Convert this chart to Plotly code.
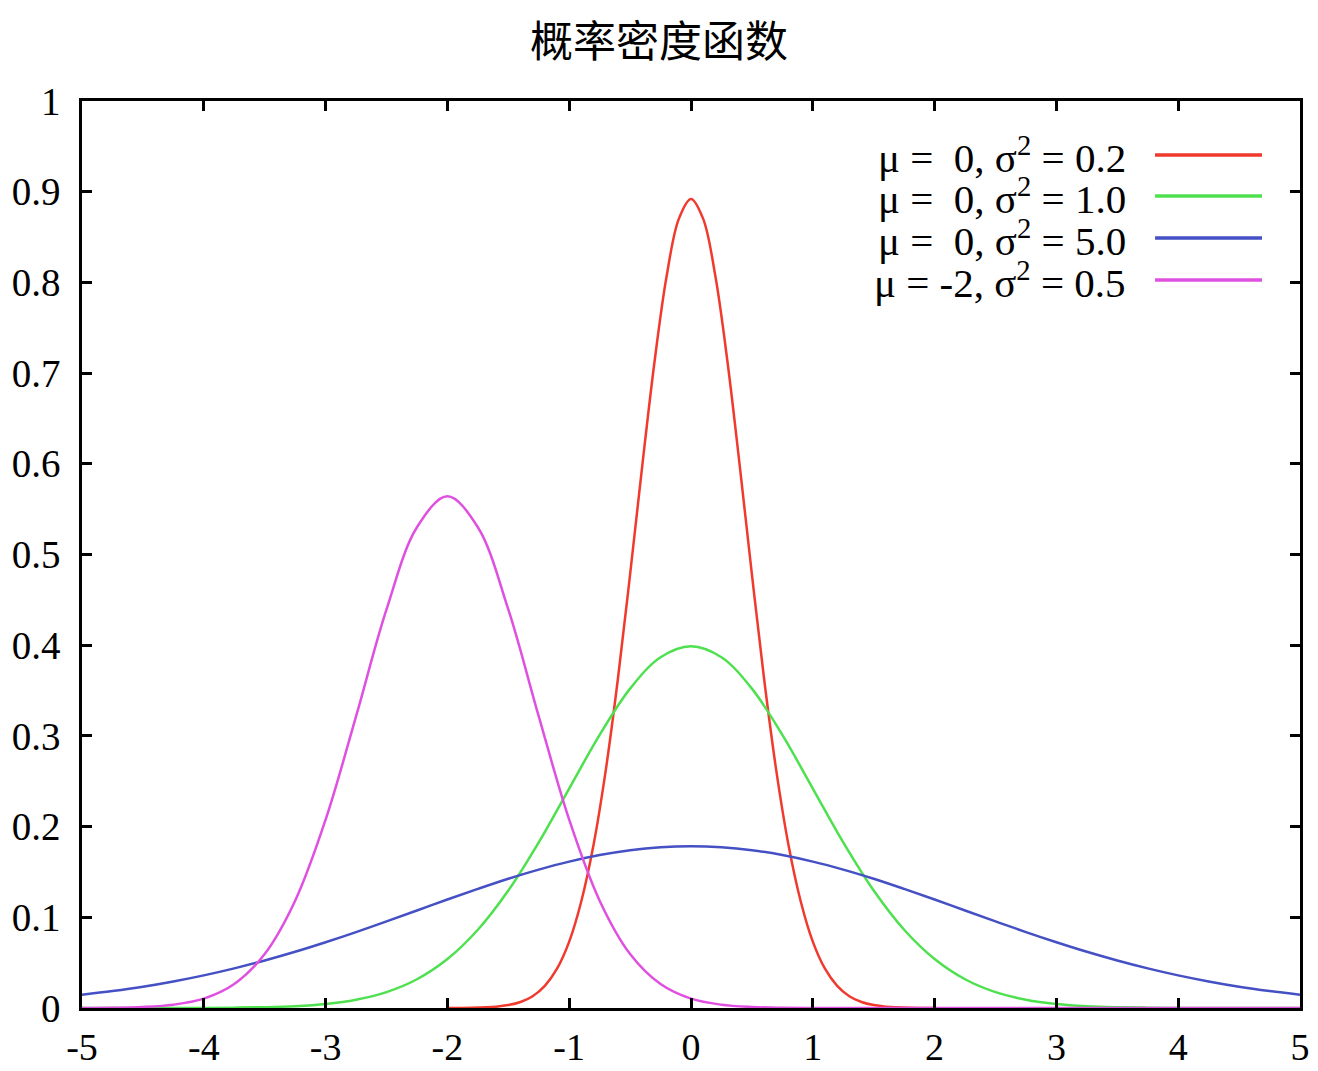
import plotly.graph_objects as go

# ---- data ----
x_red = [-2.0, -1.8, -1.6, -1.5, -1.4, -1.3, -1.2, -1.1, -1.0, -0.9, -0.8, -0.7, -0.6, -0.5, -0.4,
         -0.3, -0.2, -0.1, 0.0, 0.1, 0.2, 0.3, 0.4, 0.5, 0.6, 0.7, 0.8, 0.9, 1.0, 1.1, 1.2, 1.3,
         1.4, 1.5, 1.6, 1.8, 2.0]
y_red = [0.0, 0.0003, 0.0015, 0.0032, 0.0066, 0.0130, 0.0244, 0.0433, 0.0732, 0.118, 0.180, 0.262,
         0.363, 0.478, 0.598, 0.712, 0.807, 0.870, 0.892, 0.870, 0.807, 0.712, 0.598, 0.478, 0.363,
         0.262, 0.180, 0.118, 0.0732, 0.0433, 0.0244, 0.0130, 0.0066, 0.0032, 0.0015, 0.0003, 0.0]

x_grid = [-5.0, -4.75, -4.5, -4.25, -4.0, -3.75, -3.5, -3.25, -3.0, -2.75, -2.5, -2.25, -2.0,
          -1.75, -1.5, -1.25, -1.0, -0.75, -0.5, -0.25, 0.0, 0.25, 0.5, 0.75, 1.0, 1.25, 1.5,
          1.75, 2.0, 2.25, 2.5, 2.75, 3.0, 3.25, 3.5, 3.75, 4.0, 4.25, 4.5, 4.75, 5.0]

y_green = [0.0, 0.0, 0.0, 0.0, 0.0001, 0.0004, 0.0009, 0.0020, 0.0044, 0.0091, 0.0175, 0.0317,
           0.0540, 0.0863, 0.1295, 0.1826, 0.2420, 0.3011, 0.3521, 0.3867, 0.3989, 0.3867,
           0.3521, 0.3011, 0.2420, 0.1826, 0.1295, 0.0863, 0.0540, 0.0317, 0.0175, 0.0091,
           0.0044, 0.0020, 0.0009, 0.0004, 0.0001, 0.0, 0.0, 0.0, 0.0]

y_blue = [0.0146, 0.0187, 0.0235, 0.0293, 0.0360, 0.0437, 0.0524, 0.0620, 0.0725, 0.0837, 0.0955,
          0.1075, 0.1196, 0.1313, 0.1425, 0.1526, 0.1614, 0.1686, 0.1740, 0.1773, 0.1784, 0.1773,
          0.1740, 0.1686, 0.1614, 0.1526, 0.1425, 0.1313, 0.1196, 0.1075, 0.0955, 0.0837, 0.0725,
          0.0620, 0.0524, 0.0437, 0.0360, 0.0293, 0.0235, 0.0187, 0.0146]

y_magenta = [0.0001, 0.0003, 0.0011, 0.0036, 0.0103, 0.0264, 0.0595, 0.1183, 0.2076, 0.3215,
             0.4394, 0.5300, 0.5642, 0.5300, 0.4394, 0.3215, 0.2076, 0.1183, 0.0595, 0.0264,
             0.0103, 0.0036, 0.0011, 0.0003, 0.0001, 0.0, 0.0, 0.0, 0.0, 0.0, 0.0, 0.0, 0.0,
             0.0, 0.0, 0.0, 0.0, 0.0, 0.0, 0.0, 0.0]

series_labels = ["μ =\u00a0\u00a00, σ<sup>2</sup> = 0.2",
                 "μ =\u00a0\u00a00, σ<sup>2</sup> = 1.0",
                 "μ =\u00a0\u00a00, σ<sup>2</sup> = 5.0",
                 "μ = -2, σ<sup>2</sup> = 0.5"]
series_colors = ["#f03a2e", "#4fe04f", "#4450c4", "#e050e0"]

x_ticks = [-5, -4, -3, -2, -1, 0, 1, 2, 3, 4, 5]
x_tick_text = ["-5", "-4", "-3", "-2", "-1", "0", "1", "2", "3", "4", "5"]
y_ticks = [0, 0.1, 0.2, 0.3, 0.4, 0.5, 0.6, 0.7, 0.8, 0.9, 1]
y_tick_text = ["0", "0.1", "0.2", "0.3", "0.4", "0.5", "0.6", "0.7", "0.8", "0.9", "1"]

title_text = "概率密度函数"

# ---- figure ----
fig = go.Figure()
series = [(x_red, y_red), (x_grid, y_green), (x_grid, y_blue), (x_grid, y_magenta)]
for (xs, ys), name, col in zip(series, series_labels, series_colors):
    fig.add_trace(go.Scatter(x=xs, y=ys, mode="lines", name=name,
                             line=dict(color=col, width=2.5, shape="spline", smoothing=1.0),
                             showlegend=False))

serif = "Liberation Serif, Times New Roman, serif"

# custom legend: text on the left, sample line on the right
legend_y = [0.9405, 0.8953, 0.8490, 0.8027]
for lbl, col, yy in zip(series_labels, series_colors, legend_y):
    fig.add_annotation(xref="paper", yref="paper", x=0.859, y=yy, text=lbl,
                       showarrow=False, xanchor="right", yanchor="middle",
                       font=dict(family=serif, size=41, color="black"))
    fig.add_shape(type="line", xref="paper", yref="paper", x0=0.881, x1=0.9688,
                  y0=yy, y1=yy, line=dict(color=col, width=3.5))

axis_common = dict(showline=True, linecolor="black", linewidth=2.5, mirror="ticks",
                   ticks="inside", tickcolor="black", tickwidth=2.5, showgrid=False,
                   zeroline=False, automargin=False)

fig.update_xaxes(range=[-5, 5], tickvals=x_ticks, ticktext=x_tick_text, ticklen=10,
                 ticklabelstandoff=4, tickfont=dict(family=serif, size=38, color="black"),
                 **axis_common)
fig.update_yaxes(range=[0, 1], tickvals=y_ticks, ticktext=y_tick_text, ticklen=10,
                 ticklabelstandoff=11, tickfont=dict(family=serif, size=39, color="black"),
                 **axis_common)

fig.update_layout(
    width=1310, height=1063,
    margin=dict(l=74, r=18, t=93, b=63, autoexpand=False),
    plot_bgcolor="white", paper_bgcolor="white",
    title=dict(text=title_text, x=0.497, xref="container", xanchor="center",
               y=0.968, yref="container", yanchor="middle",
               font=dict(family="Noto Sans CJK SC", size=43, color="black")),
)

fig.write_html("out.html")
